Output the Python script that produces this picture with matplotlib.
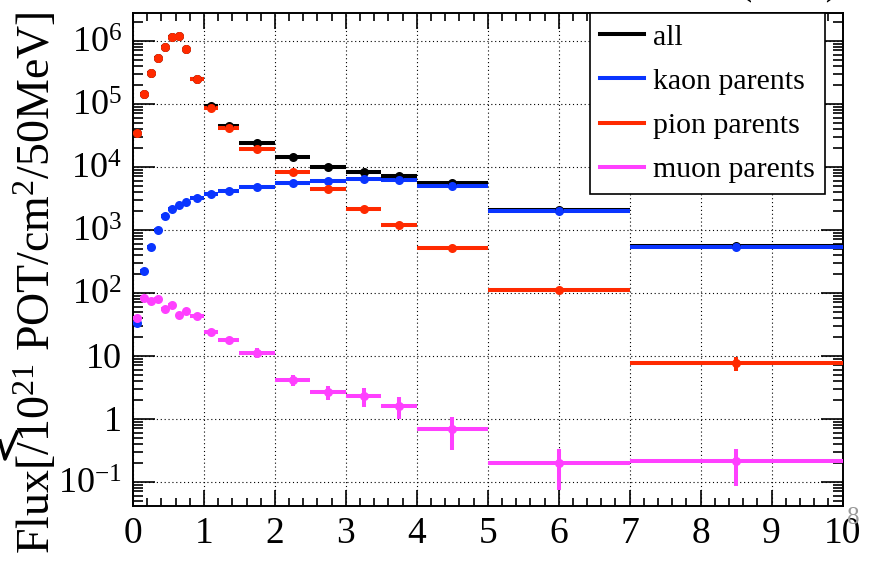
import numpy as np
import matplotlib
matplotlib.use('Agg')
import matplotlib.pyplot as plt
from matplotlib.lines import Line2D
from matplotlib.ticker import FixedLocator, LogLocator, MultipleLocator, FuncFormatter, NullFormatter

plt.rcParams['font.family'] = ['Liberation Serif', 'DejaVu Serif']
plt.rcParams['mathtext.fontset'] = 'custom'
plt.rcParams['mathtext.rm'] = 'Liberation Serif'
plt.rcParams['mathtext.it'] = 'Liberation Serif:italic'

# ---------------- data ----------------
bin_edges = [0.0, 0.1, 0.2, 0.3, 0.4, 0.5, 0.6, 0.7, 0.8, 1.0, 1.2, 1.5,
             2.0, 2.5, 3.0, 3.5, 4.0, 5.0, 7.0, 10.0]

all_flux = [3.4e4, 1.4e5, 3.1e5, 5.3e5, 7.9e5, 1.15e6, 1.2e6, 7.5e5, 2.5e5,
            9.1e4, 4.5e4, 2.35e4, 1.44e4, 1.0e4, 8.2e3, 7.2e3, 5.5e3, 2.05e3, 5.5e2]
all_err = [1500, 5000, 1e4, 1.5e4, 2e4, 3e4, 3e4, 2e4, 1e4,
           4e3, 2e3, 1e3, 5e2, 3e2, 2.5e2, 2.5e2, 2.5e2, 120, 40]

kaon_flux = [33, 220, 540, 1000, 1660, 2150, 2500, 2760, 3240,
             3700, 4060, 4800, 5600, 5900, 6300, 6200, 5000, 1980, 540]
kaon_err = [3, 15, 30, 50, 70, 90, 100, 110, 120,
            130, 150, 170, 200, 220, 250, 250, 250, 120, 40]

pion_flux = [3.4e4, 1.4e5, 3.1e5, 5.3e5, 7.9e5, 1.15e6, 1.2e6, 7.5e5, 2.5e5,
             8.7e4, 4.1e4, 1.9e4, 8.2e3, 4.4e3, 2.15e3, 1.19e3, 510, 110, 7.6]
pion_err = [1500, 5000, 1e4, 1.5e4, 2e4, 3e4, 3e4, 2e4, 1e4,
            4e3, 2e3, 1e3, 4e2, 2.5e2, 1.2e2, 80, 30, 8, 1.8]

muon_flux = [39, 81, 75, 79, 56, 63, 44, 51, 42,
             24, 18, 11.2, 4.1, 2.65, 2.3, 1.6, 0.69, 0.20, 0.21]
muon_err = [3, 4, 4, 4, 3, 4, 3, 3, 3,
            2, 1.5, 2, 0.8, 0.7, 0.75, 0.6, 0.37, 0.125, 0.125]

series_labels = ['all', 'kaon parents', 'pion parents', 'muon parents']
series_colors = ['#000000', '#0a35ff', '#ff2a00', '#ff40ff']

x_tick_labels = ['0', '1', '2', '3', '4', '5', '6', '7', '8', '9', '10']

# ---------------- figure ----------------
W, H = 875, 561
fig = plt.figure(figsize=(W / 100, H / 100), dpi=100)
ax_l, ax_r, ax_t, ax_b = 133, 842.5, 13.3, 505.7
ax = fig.add_axes([ax_l / W, 1 - ax_b / H, (ax_r - ax_l) / W, (ax_b - ax_t) / H])

edges = np.array(bin_edges)
centers = 0.5 * (edges[:-1] + edges[1:])
half = 0.5 * (edges[1:] - edges[:-1])

for vals, errs, col in zip([all_flux, kaon_flux, pion_flux, muon_flux],
                           [all_err, kaon_err, pion_err, muon_err],
                           series_colors):
    ax.errorbar(centers, vals, xerr=half, yerr=errs, fmt='o', color=col,
                ms=6.5, elinewidth=2.9, capsize=0, mew=0, zorder=3)

ax.set_yscale('log')
ax.set_xlim(0, 10)
ax.set_ylim(10 ** (-1.381), 10 ** 6.435)

# ticks
ax.xaxis.set_major_locator(FixedLocator(range(0, 11)))
ax.set_xticklabels(x_tick_labels)
ax.xaxis.set_minor_locator(MultipleLocator(0.2))
ax.yaxis.set_major_locator(LogLocator(base=10, numticks=20))
ax.yaxis.set_minor_locator(LogLocator(base=10, subs=np.arange(2, 10), numticks=20))
ax.yaxis.set_minor_formatter(NullFormatter())


def yfmt(v, pos):
    e = int(round(np.log10(v)))
    if e == 1:
        return '10'
    if e == 0:
        return '1'
    return r'$10^{%d}$' % e


ax.yaxis.set_major_formatter(FuncFormatter(yfmt))

ax.tick_params(axis='both', which='both', direction='in', top=True, right=True,
               width=1.2, color='black')
ax.tick_params(axis='x', which='major', length=11.5, pad=8, labelsize=27)
ax.tick_params(axis='x', which='minor', length=6)
ax.tick_params(axis='y', which='major', length=16, pad=8, labelsize=26)
ax.tick_params(axis='y', which='minor', length=7.5)

for s in ax.spines.values():
    s.set_linewidth(1.4)

ax.grid(True, which='major', color='black', linestyle=(0, (1, 2.5)), linewidth=0.8)
ax.set_axisbelow(False)

# legend
handles = [Line2D([], [], color=c, lw=2.9) for c in series_colors]
leg = ax.legend(handles, series_labels, loc='upper right',
                bbox_to_anchor=((825 - ax_l) / (ax_r - ax_l), 1.0),
                borderaxespad=0, fontsize=21.5, frameon=True, fancybox=False,
                edgecolor='black', framealpha=1, handlelength=1.45,
                handletextpad=0.3, labelspacing=0.58, borderpad=0.35)
leg.get_frame().set_linewidth(1.2)
leg.set_zorder(5)

# y-axis title
fig.text(37 / W, 1 - 283 / H, r'Flux[/10$^{21}$ POT/cm$^{2}$/50MeV]',
         rotation=90, ha='center', va='center', fontsize=33)

# slide residue: clipped title at top, page number, stroke at left
fig.text(712 / W, 1 - 3 / H, 'ν (GeV)', ha='left', va='bottom', fontsize=28)
fig.text(853 / W, 1 - 518 / H, '8', ha='center', va='center', fontsize=18, color='#9a9a9a')
fig.add_artist(Line2D([0 / W, 5 / W, 17 / W], [1 - 441 / H, 1 - 459 / H, 1 - 432 / H],
                      color='black', lw=2.5, transform=fig.transFigure))

fig.savefig('out.png', dpi=100)
